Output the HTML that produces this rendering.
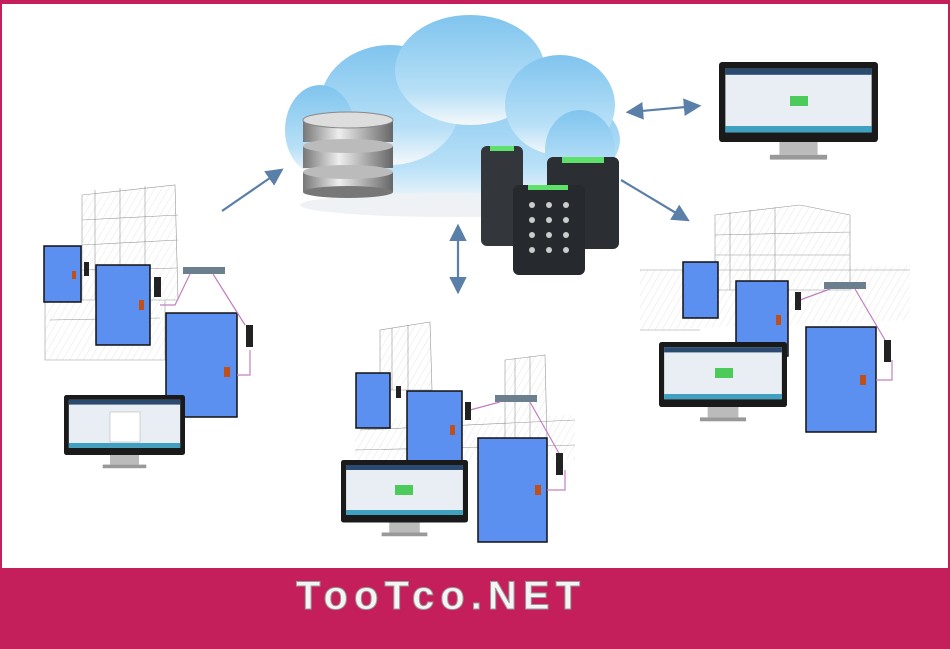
<!DOCTYPE html>
<html><head><meta charset="utf-8"><style>
html,body{margin:0;padding:0;width:950px;height:649px;overflow:hidden;background:#c41f5b}
svg{display:block}
</style></head><body>
<svg width="950" height="649" viewBox="0 0 950 649" xmlns="http://www.w3.org/2000/svg">
<defs>
<linearGradient id="cl" x1="0" y1="0" x2="0" y2="1"><stop offset="0" stop-color="#7fc4ee"/><stop offset="0.7" stop-color="#b8e0f7"/><stop offset="1" stop-color="#f4f8fb"/></linearGradient>
<linearGradient id="db" x1="0" y1="0" x2="1" y2="0"><stop offset="0" stop-color="#777"/><stop offset="0.4" stop-color="#eee"/><stop offset="1" stop-color="#666"/></linearGradient>
<marker id="ah" markerWidth="8" markerHeight="8" refX="6" refY="4" orient="auto"><path d="M0,0 L8,4 L0,8 z" fill="#5a7fa8"/></marker>
<marker id="as" markerWidth="8" markerHeight="8" refX="2" refY="4" orient="auto"><path d="M8,0 L0,4 L8,8 z" fill="#5a7fa8"/></marker>
<pattern id="hat" width="6" height="6" patternUnits="userSpaceOnUse" patternTransform="rotate(30)"><line x1="0" y1="0" x2="0" y2="6" stroke="#555" stroke-width="0.5"/></pattern>
<g id="mon"><rect x="0" y="0" width="100" height="50" rx="2" fill="#1a1a1a"/><rect x="4" y="4" width="92" height="40" fill="#e8eef3"/><rect x="4" y="4" width="92" height="4" fill="#2a4a70"/><rect x="4" y="40" width="92" height="4" fill="#3fa0c0"/><rect x="38" y="50" width="24" height="8" fill="#bbb"/><rect x="32" y="58" width="36" height="3" fill="#999"/></g>
</defs>
<rect x="2" y="4" width="946" height="564" fill="#fff"/>
<!-- sketches -->
<g opacity="0.3">
<path d="M82,195 L175,185 L178,300 L82,300Z M45,300 L165,300 L165,360 L45,360 Z" fill="url(#hat)"/>
<path d="M380,330 L430,322 L432,390 L380,390Z M505,360 L545,355 L547,440 L505,440Z M355,420 L575,415 L575,460 L355,460Z" fill="url(#hat)"/>
<path d="M715,215 L800,205 L850,215 L850,290 L715,290Z M640,270 L910,265 L910,320 L640,330Z" fill="url(#hat)"/>
</g>
<g stroke="#444" stroke-width="0.6" fill="none" opacity="0.55">
<path d="M82,195 L175,185 L178,300 L82,300Z M95,190 L95,300 M120,188 L120,300 M145,186 L145,300 M82,220 L178,215 M82,245 L178,240 M82,270 L178,268 M45,300 L165,300 L165,360 L45,360 Z M50,320 L160,318"/>
<path d="M380,330 L430,322 L432,390 L380,390Z M392,328 L392,390 M408,325 L408,390 M505,360 L545,355 L547,440 L505,440Z M515,358 L515,440 M530,356 L530,440 M360,430 L575,420 M355,450 L575,445"/>
<path d="M715,215 L800,205 L850,215 L850,290 L715,290Z M730,212 L730,290 M750,210 L750,290 M775,207 L775,290 M715,235 L850,232 M715,255 L850,255 M640,270 L910,270 M640,330 L700,330"/>
</g>
<!-- cloud -->
<g fill="url(#cl)">
<ellipse cx="470" cy="140" rx="150" ry="65"/><ellipse cx="390" cy="105" rx="70" ry="60"/><ellipse cx="470" cy="70" rx="75" ry="55"/><ellipse cx="560" cy="105" rx="55" ry="50"/><ellipse cx="320" cy="130" rx="35" ry="45"/><ellipse cx="580" cy="150" rx="35" ry="40"/>
</g>
<ellipse cx="450" cy="205" rx="150" ry="12" fill="#eef2f5"/>
<!-- database -->
<g><rect x="303" y="120" width="90" height="22" fill="url(#db)"/><ellipse cx="348" cy="120" rx="45" ry="8" fill="#ddd" stroke="#888"/>
<rect x="303" y="146" width="90" height="22" fill="url(#db)"/><ellipse cx="348" cy="146" rx="45" ry="7" fill="#bbb"/>
<rect x="303" y="172" width="90" height="20" fill="url(#db)"/><ellipse cx="348" cy="172" rx="45" ry="7" fill="#bbb"/><ellipse cx="348" cy="192" rx="45" ry="6" fill="#777"/></g>
<!-- readers -->
<rect x="547" y="157" width="72" height="92" rx="6" fill="#2b2e33"/><rect x="562" y="157" width="42" height="6" fill="#5ee06a"/>
<rect x="481" y="146" width="42" height="100" rx="6" fill="#33363b"/><rect x="490" y="146" width="24" height="5" fill="#5ee06a"/>
<rect x="513" y="185" width="72" height="90" rx="6" fill="#26292d"/><rect x="528" y="185" width="40" height="5" fill="#5ee06a"/>
<g fill="#ccc"><circle cx="532" cy="205" r="3"/><circle cx="549" cy="205" r="3"/><circle cx="566" cy="205" r="3"/><circle cx="532" cy="220" r="3"/><circle cx="549" cy="220" r="3"/><circle cx="566" cy="220" r="3"/><circle cx="532" cy="235" r="3"/><circle cx="549" cy="235" r="3"/><circle cx="566" cy="235" r="3"/><circle cx="532" cy="250" r="3"/><circle cx="549" cy="250" r="3"/><circle cx="566" cy="250" r="3"/></g>
<!-- arrows -->
<g stroke="#5a7fa8" stroke-width="2.2" fill="none">
<line x1="222" y1="211" x2="280" y2="171" marker-end="url(#ah)"/>
<line x1="458" y1="228" x2="458" y2="290" marker-end="url(#ah)" marker-start="url(#as)"/>
<line x1="630" y1="112" x2="697" y2="106" marker-end="url(#ah)" marker-start="url(#as)"/>
<line x1="621" y1="180" x2="686" y2="219" marker-end="url(#ah)"/>
</g>
<!-- top monitor -->
<g transform="translate(719,62) scale(1.59,1.6)"><use href="#mon"/></g>
<rect x="790" y="96" width="18" height="10" fill="#4ccb5a"/>
<!-- LEFT cluster -->
<g stroke="#111" stroke-width="1.5" fill="#5b8ff0">
<rect x="44" y="246" width="37" height="56"/><rect x="96" y="265" width="54" height="80"/><rect x="166" y="313" width="71" height="104"/>
</g>
<rect x="183" y="267" width="42" height="7" fill="#6b7f8f"/>
<g stroke="#c080c0" stroke-width="1.2" fill="none"><path d="M160,305 L175,305 L190,274 M213,274 L245,325 M237,375 L250,375 L250,350"/></g>
<rect x="154" y="277" width="7" height="20" fill="#222"/><rect x="246" y="325" width="7" height="22" fill="#222"/><rect x="84" y="262" width="5" height="14" fill="#222"/>
<rect x="139" y="300" width="5" height="10" fill="#c0501a"/><rect x="224" y="367" width="6" height="10" fill="#c0501a"/><rect x="72" y="271" width="4" height="8" fill="#c0501a"/>
<g transform="translate(64,395) scale(1.21,1.2)"><use href="#mon"/></g>
<rect x="110" y="412" width="30" height="30" fill="#fff" stroke="#aaa" stroke-width="0.5"/>
<!-- MIDDLE cluster -->
<g stroke="#111" stroke-width="1.5" fill="#5b8ff0">
<rect x="356" y="373" width="34" height="55"/><rect x="407" y="391" width="55" height="71"/><rect x="478" y="438" width="69" height="104"/>
</g>
<rect x="495" y="395" width="42" height="7" fill="#6b7f8f"/>
<g stroke="#c080c0" stroke-width="1.2" fill="none"><path d="M470,410 L500,402 M530,402 L560,455 M547,490 L565,490 L565,470"/></g>
<rect x="465" y="402" width="6" height="18" fill="#222"/><rect x="556" y="453" width="7" height="22" fill="#222"/><rect x="396" y="386" width="5" height="12" fill="#222"/>
<rect x="450" y="425" width="5" height="10" fill="#c0501a"/><rect x="535" y="485" width="6" height="10" fill="#c0501a"/>
<g transform="translate(341,460) scale(1.27,1.25)"><use href="#mon"/></g>
<rect x="395" y="485" width="18" height="10" fill="#4ccb5a"/>
<!-- RIGHT cluster -->
<g stroke="#111" stroke-width="1.5" fill="#5b8ff0">
<rect x="683" y="262" width="35" height="56"/><rect x="736" y="281" width="52" height="75"/><rect x="806" y="327" width="70" height="105"/>
</g>
<rect x="824" y="282" width="42" height="7" fill="#6b7f8f"/>
<g stroke="#c080c0" stroke-width="1.2" fill="none"><path d="M800,300 L830,289 M855,289 L885,340 M876,380 L892,380 L892,360"/></g>
<rect x="795" y="292" width="6" height="18" fill="#222"/><rect x="884" y="340" width="7" height="22" fill="#222"/>
<rect x="776" y="315" width="5" height="10" fill="#c0501a"/><rect x="860" y="375" width="6" height="10" fill="#c0501a"/>
<g transform="translate(659,342) scale(1.28,1.3)"><use href="#mon"/></g>
<rect x="715" y="368" width="18" height="10" fill="#4ccb5a"/>
<!-- footer -->
<rect x="0" y="568" width="950" height="81" fill="#c41f5b"/>
<text x="296" y="609" textLength="284" lengthAdjust="spacing" font-family="Liberation Sans, sans-serif" font-weight="bold" font-size="40" fill="#f4f4f4" stroke="#999" stroke-width="1">TooTco.NET</text>
</svg>
</body></html>
